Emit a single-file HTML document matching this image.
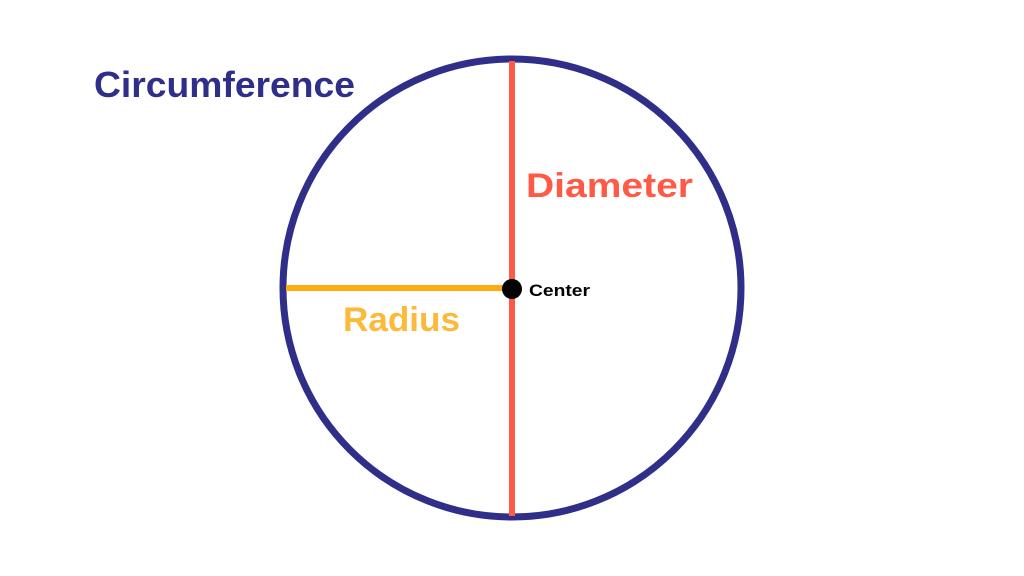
<!DOCTYPE html>
<html><head><style>
html,body{margin:0;padding:0;background:#fff;width:1024px;height:576px;overflow:hidden}
svg text{font-family:"Liberation Sans",sans-serif;font-weight:bold}
</style></head><body>
<svg width="1024" height="576" viewBox="0 0 1024 576">
<circle cx="512" cy="288" r="229" fill="none" stroke="#2f2e89" stroke-width="7"/>
<line x1="512" y1="61" x2="512" y2="516" stroke="#ff5a46" stroke-width="6"/>
<line x1="286" y1="288" x2="512" y2="288" stroke="#fdaa13" stroke-width="6"/>
<circle cx="512" cy="289" r="10" fill="#000"/>
<text x="94" y="97" font-size="36" fill="#2f2e89" textLength="261" lengthAdjust="spacingAndGlyphs">Circumference</text>
<text x="526" y="197" font-size="34" fill="#ff5a46" textLength="167" lengthAdjust="spacingAndGlyphs">Diameter</text>
<text x="343" y="331" font-size="34" fill="#fcba3a" textLength="117" lengthAdjust="spacingAndGlyphs">Radius</text>
<text x="529" y="296" font-size="17" fill="#000" textLength="61" lengthAdjust="spacingAndGlyphs">Center</text>
</svg>
</body></html>
